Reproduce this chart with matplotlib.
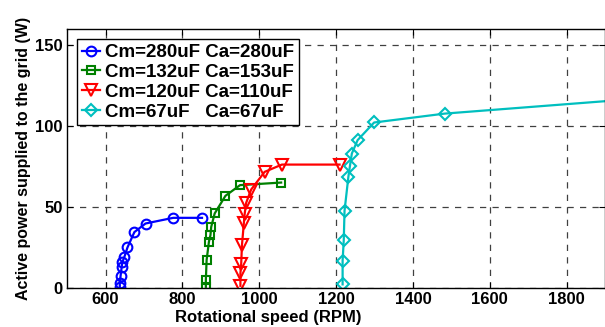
import matplotlib
matplotlib.use('Agg')
import matplotlib.pyplot as plt

plt.rcParams['font.family'] = ['Liberation Sans', 'DejaVu Sans']
plt.rcParams['font.weight'] = 'bold'

# Cm=280uF Ca=280uF
rpm1 = [637, 637, 639, 642, 644, 649, 657, 675, 704, 776, 851]
pw1 = [0.8, 2.9, 7.4, 13.2, 16.2, 19.3, 25.1, 34.6, 39.9, 43.4, 43.4]
# Cm=132uF Ca=153uF
rpm2 = [861, 861, 863, 869, 873, 875, 884, 912, 950, 1057]
pw2 = [0.8, 4.9, 17.3, 28.6, 32.7, 37.8, 46.1, 57.0, 63.6, 65.2]
# Cm=120uF Ca=110uF
rpm3 = [951, 951, 953, 955, 960, 962, 966, 979, 1014, 1059, 1209]
pw3 = [1.4, 9.1, 14.8, 26.5, 40.3, 45.7, 52.7, 60.9, 71.8, 76.3, 76.3]
# Cm=67uF Ca=67uF
rpm4 = [1217, 1217, 1220, 1222, 1232, 1236, 1241, 1256, 1299, 1483, 2000]
pw4 = [2.3, 16.9, 29.6, 47.7, 68.7, 75.3, 83.1, 91.4, 102.3, 107.8, 117.3]

labels = ['Cm=280uF Ca=280uF', 'Cm=132uF Ca=153uF',
          'Cm=120uF Ca=110uF', 'Cm=67uF   Ca=67uF']

fig = plt.figure(figsize=(6.05, 3.27), dpi=100)
ax = fig.add_axes([0.111, 0.119, 0.889, 0.792])

ax.plot(rpm1, pw1, '-o', color='#0000ff', label=labels[0], ms=7, lw=1.6, mew=1.5, mfc='none')
ax.plot(rpm2, pw2, '-s', color='#008000', label=labels[1], ms=6, lw=1.6, mew=1.5, mfc='none')
ax.plot(rpm3, pw3, '-v', color='#ff0000', label=labels[2], ms=8, lw=1.6, mew=1.5, mfc='none')
ax.plot(rpm4, pw4, '-D', color='#00bfbf', label=labels[3], ms=6, lw=1.6, mew=1.5, mfc='none')

ax.set_xlim(500, 1900)
ax.set_ylim(0, 160)
ax.set_xticks([600, 800, 1000, 1200, 1400, 1600, 1800])
ax.set_yticks([0, 50, 100, 150])
ax.grid(True, color='0.25', linestyle=(0, (5, 5)), lw=0.9)
ax.tick_params(direction='in', top=True, right=True, labelsize=12, length=4, pad=3)
for s in ax.spines.values():
    s.set_linewidth(1.0)

ax.set_xlabel('Rotational speed (RPM)', fontsize=12, fontweight='bold', labelpad=0)
ax.xaxis.set_label_coords(0.373, -0.085)
ax.set_ylabel('Active power supplied to the grid (W)', fontsize=11.5, fontweight='bold', labelpad=3)

leg = ax.legend(loc='upper left', fontsize=13.5, handlelength=1.0, handletextpad=0.25,
                borderpad=0.25, labelspacing=0.14, fancybox=False, framealpha=1,
                edgecolor='black', bbox_to_anchor=(0.018, 0.96), borderaxespad=0)
leg.get_frame().set_linewidth(1.0)

plt.savefig('out.png', dpi=100)
